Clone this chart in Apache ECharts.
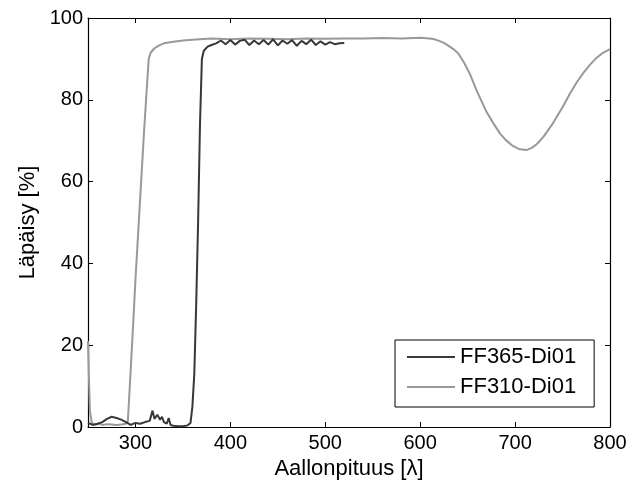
<!DOCTYPE html>
<html>
<head>
<meta charset="utf-8">
<script src="https://cdn.jsdelivr.net/npm/echarts@6.0.0/dist/echarts.min.js"></script>
<style>
  html, body { margin: 0; padding: 0; background: #fff; }
  #chart { width: 633px; height: 487px; }
</style>
</head>
<body>
<div id="chart"></div>
<script>
// wavelengths (nm) and transmission (%)
const darkWave = [250, 255, 260, 265, 270, 275, 280, 285, 290, 295, 300, 305, 310, 315, 318, 320, 323, 326, 328, 330,
  333, 335, 337, 340, 345, 350, 355, 358, 360, 362, 364, 366, 368, 370, 372, 376, 380,
  385, 390, 395, 400, 405, 410, 415, 420, 425, 430, 435, 440, 445, 450, 455, 460, 465, 470, 475, 480,
  485, 490, 495, 500, 505, 510, 515, 520]
const darkT = [1, 0.5, 0.8, 1.2, 2, 2.5, 2.2, 1.8, 1.2, 0.5, 1, 0.8, 1.2, 1.5, 4, 2, 3, 1.8, 2.5, 1.2,
  0.8, 2.2, 0.5, 0.3, 0.2, 0.2, 0.4, 1, 5, 13, 30, 50, 74, 90, 92, 93, 93.4,
  93.8, 94.5, 93.6, 94.6, 93.5, 94.4, 94.7, 93.4, 94.5, 93.6, 94.6, 93.5, 94.8, 93.3, 94.5, 93.7, 94.6, 93.2, 94.4, 93.6,
  94.7, 93.4, 94.3, 93.5, 94.1, 93.6, 93.8, 93.9]

const lightWave = [250, 251, 252, 254, 258, 262, 266, 270, 275, 280, 285, 290, 292, 295, 298, 300, 303, 306, 309, 312,
  314, 316, 320, 325, 330, 340, 350, 360, 380, 400, 420, 440, 460, 480, 500, 520, 540, 560, 580, 600,
  610, 615, 620, 625, 630, 635, 640, 646, 652, 660, 670, 677, 684, 690, 697, 705, 712, 718, 723, 730,
  740, 750, 758, 765, 772, 779, 786, 792, 797, 800]
const lightT = [21, 12, 4, 1, 0.6, 0.8, 0.5, 0.7, 0.6, 0.5, 0.6, 0.8, 1.5, 14, 27, 36, 48, 60, 72, 83,
  90, 91.5, 92.6, 93.3, 93.8, 94.2, 94.5, 94.7, 95, 94.8, 95, 94.9, 94.8, 95, 94.9, 95, 95, 95.1, 95, 95.2,
  95, 94.8, 94.4, 93.9, 93.2, 92.4, 91.4, 89.2, 86.5, 82, 77, 74.3, 71.8, 70.2, 68.8, 67.9, 67.7, 68.3, 69.2, 71,
  74.3, 78.2, 81.6, 84.3, 86.6, 88.6, 90.3, 91.4, 92, 92.4]

const xTicks = [300, 400, 500, 600, 700, 800]
const seriesNames = ['FF365-Di01', 'FF310-Di01']

const zip = (xs, ys) => xs.map((x, i) => [x, ys[i]])

const font = 'Liberation Sans, Arial, sans-serif'
const tick = { show: true, inside: true, length: 5, lineStyle: { color: '#000' } }
const line = { show: true, onZero: false, lineStyle: { color: '#000', width: 1.2 } }
const nameStyle = { fontFamily: font, fontSize: 22, color: '#000' }

const xBase = {
  type: 'value', min: 250, max: 800,
  splitLine: { show: false },
  axisLine: line
}
const yBase = {
  type: 'value', min: 0, max: 100, interval: 20,
  splitLine: { show: false },
  axisLine: line
}

const option = {
  animation: false,
  backgroundColor: '#fff',
  grid: { left: 88, right: 23, top: 18, bottom: 60 },
  legend: {
    orient: 'vertical',
    left: 395, top: 340,
    data: seriesNames,
    itemWidth: 48, itemHeight: 22, itemGap: 8,
    padding: [6, 18, 9, 11],
    borderColor: '#000', borderWidth: 1,
    backgroundColor: '#fff',
    itemStyle: { opacity: 0 },
    textStyle: { fontFamily: font, fontSize: 22, color: '#000' }
  },
  xAxis: [
    {
      ...xBase, position: 'bottom',
      name: 'Aallonpituus [λ]', nameLocation: 'middle', nameGap: 29,
      nameTextStyle: nameStyle,
      axisTick: { ...tick, customValues: xTicks },
      axisLabel: { customValues: xTicks, fontFamily: font, fontSize: 20, color: '#000', margin: 6 }
    },
    {
      ...xBase, position: 'top',
      axisTick: { ...tick, customValues: xTicks },
      axisLabel: { show: false }
    }
  ],
  yAxis: [
    {
      ...yBase, position: 'left',
      name: 'Läpäisy [%]', nameLocation: 'middle', nameGap: 49,
      nameTextStyle: nameStyle,
      axisTick: tick,
      axisLabel: { fontFamily: font, fontSize: 20, color: '#000', margin: 5 }
    },
    {
      ...yBase, position: 'right',
      axisTick: tick,
      axisLabel: { show: false }
    }
  ],
  series: [
    {
      name: seriesNames[0], type: 'line', symbol: 'none', z: 3,
      lineStyle: { color: '#383838', width: 2 },
      itemStyle: { color: '#383838' },
      data: zip(darkWave, darkT)
    },
    {
      name: seriesNames[1], type: 'line', symbol: 'none', z: 2,
      lineStyle: { color: '#999999', width: 2 },
      itemStyle: { color: '#999999' },
      data: zip(lightWave, lightT)
    }
  ]
}

const chart = echarts.init(document.getElementById('chart'))
chart.setOption(option)
</script>
</body>
</html>
